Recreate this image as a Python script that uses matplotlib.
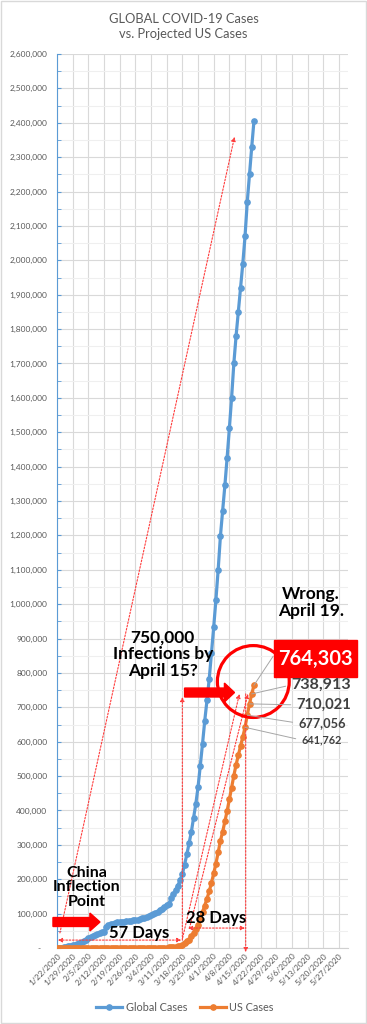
import matplotlib
matplotlib.use("Agg")
import matplotlib.pyplot as plt
import numpy as np
from matplotlib.ticker import FuncFormatter, MultipleLocator
from matplotlib.patches import FancyArrow, Ellipse, Rectangle

plt.rcParams['font.family'] = ['Lato', 'DejaVu Sans']

# daily cumulative cases, 1/22/2020 .. 4/19/2020
global_cases = [
    580, 845, 1317, 2015, 2800, 4581, 6058, 7813, 9823, 11950,
    14553, 17391, 20630, 24545, 28276, 31439, 34876, 37552, 40553, 43099,
    45170, 46839, 60328, 66887, 69032, 71226, 73260, 75138, 75641, 76199,
    76843, 78599, 78985, 79570, 80415, 81397, 82756, 84124, 86013,
    88371, 90309, 92844, 95124, 97886, 101800, 105836, 109835, 113582, 118582,
    125865, 128343, 145193, 156097, 167449, 181546, 197168, 214915, 242713, 272167,
    304528, 337020, 378287, 418045, 467653, 529591, 593291, 660706, 720117, 782365,
    857487,
    933000, 1013466, 1100000, 1197405, 1272115, 1345101, 1426096, 1511104, 1600000, 1700000,
    1780000, 1850000, 1920000, 1990000, 2070000, 2170000, 2250000, 2330000, 2406000,
]
us_cases = [
    1, 1, 2, 2, 5, 5, 5, 5, 5, 7,
    8, 11, 11, 11, 12, 12, 12, 12, 12, 13, 13, 14, 14, 14, 14, 14, 15, 15, 15,
    15, 35, 35, 35, 53, 53, 59, 60, 62, 70,
    76, 101, 122, 153, 221, 319, 435, 541, 704, 994,
    1301, 1630, 2183, 2770, 3613, 4596, 6344, 9197, 13779, 19367,
    24192, 33592, 43781, 54856, 68211, 85435, 104126, 123578, 143491, 164620,
    189618,
    216721, 245540, 277965, 312237, 337635, 368196, 398809, 432132, 466299, 501560,
    532879, 560433, 586941, 613886, 641762, 677056, 710021, 738913, 764303,
]
tick_labels = ['1/22/2020', '1/29/2020', '2/5/2020', '2/12/2020', '2/19/2020', '2/26/2020',
               '3/4/2020', '3/11/2020', '3/18/2020', '3/25/2020', '4/1/2020', '4/8/2020',
               '4/15/2020', '4/22/2020', '4/29/2020', '5/6/2020', '5/13/2020', '5/20/2020',
               '5/27/2020']
callout_days = [84, 85, 86, 87]   # 4/15 .. 4/18
callout_sizes = [7.8, 9.2, 10.6, 11.6]

days = np.arange(len(global_cases))
blue = '#5b9bd5'
orange = '#ed7d31'
grey = '#595959'

fig = plt.figure(figsize=(3.67, 10.24), dpi=100)
ax = fig.add_axes([57/367, 76/1024, 291/367, 894/1024])

ax.plot(days, global_cases, color=blue, lw=2.3, marker='o', ms=3.8, label='Global Cases', zorder=3)
ax.plot(days, us_cases, color=orange, lw=2.3, marker='o', ms=3.8, label='US Cases', zorder=3)

ax.set_xlim(0, 130)
ax.set_ylim(0, 2600000)
ax.set_xticks(np.arange(0, 127, 7))
ax.set_xticklabels(tick_labels, rotation=45, ha='right', rotation_mode='anchor',
                   fontsize=6, color=grey)
ax.set_yticks(np.arange(0, 2600001, 100000))
ax.yaxis.set_minor_locator(MultipleLocator(50000))
ax.yaxis.set_major_formatter(FuncFormatter(lambda v, p: '-   ' if v == 0 else f'{int(v):,}'))
ax.tick_params(axis='y', labelsize=6, labelcolor=grey, direction='in', length=3,
               color=blue, pad=7)
ax.tick_params(axis='y', which='minor', direction='in', length=3, color=blue)
ax.tick_params(axis='x', length=0, pad=3)
ax.grid(which='major', color='#d9d9d9', lw=0.8)
ax.grid(which='minor', axis='y', color='#efefef', lw=0.8)
ax.set_axisbelow(True)
for s in ['top', 'right']:
    ax.spines[s].set_visible(False)
ax.spines['left'].set_color(blue)
ax.spines['bottom'].set_color('#d0d0d0')

# dotted red guide arrows
red_dot = dict(color='#ff3b3b', lw=0.8, linestyle=(0, (1.5, 1.5)), shrinkA=0, shrinkB=0,
               mutation_scale=6)
def guide(head, tail, style='-|>'):
    ax.annotate('', xy=head, xytext=tail, annotation_clip=False,
                arrowprops=dict(arrowstyle=style, **red_dot), zorder=4)

guide((79.3, 2359000), (1.3, 44000))
guide((81.5, 739000), (56.1, 29000))
guide((85.3, 739000), (59.2, 58000))
guide((56, 730000), (56, 23000))
guide((84.3, -12000), (84.3, 739000))
guide((55.5, 23000), (0.4, 23000), '<|-|>')
guide((84.0, 58000), (58.5, 58000), '<|-|>')

# big block arrows
ax.add_patch(FancyArrow(-1.8, 75600, 21, 0, width=26000, head_width=52000, head_length=4.5,
                        length_includes_head=True, color='red', clip_on=False, zorder=6))
ax.add_patch(FancyArrow(57.0, 743000, 22.3, 0, width=26000, head_width=55000, head_length=4.5,
                        length_includes_head=True, color='red', clip_on=False, zorder=6))

# circle and highlighted value
ax.add_patch(Ellipse((87.7, 775000), 32.1, 209000, fill=False, edgecolor='red', lw=2.3,
                     zorder=6, clip_on=False))
ax.annotate('', xy=(days[-1], us_cases[-1]), xytext=(96.5, 848000), annotation_clip=False,
            arrowprops=dict(arrowstyle='-', color='#a6a6a6', lw=0.7, shrinkA=0, shrinkB=0),
            zorder=5)
ax.add_patch(Rectangle((97.1, 788000), 37, 108000, color='red', clip_on=False, zorder=7))
ax.text(115.6, 842000, f'{us_cases[-1]:,}', color='white', fontsize=14.5, fontweight='bold',
        ha='center', va='center', zorder=8)

label_pos = [(109.1, 605000), (107.7, 654000), (106.9, 707000), (104.6, 765000)]
for d, fs, (lx, ly) in zip(callout_days, callout_sizes, label_pos):
    ax.annotate(f'{us_cases[d]:,}', xy=(d, us_cases[d]), xytext=(lx, ly),
                ha='left', va='center', fontsize=fs, fontweight='bold', color='#404040',
                annotation_clip=False, zorder=7,
                arrowprops=dict(arrowstyle='-', color='#a6a6a6', lw=0.7, shrinkA=2, shrinkB=0,
                                relpos=(0, 0.5)))

bold = dict(fontweight='bold', color='black', ha='center', va='center', zorder=8)
ax.text(113.5, 1005000, 'Wrong.\nApril 19.', fontsize=12.5, linespacing=1.1, **bold)
ax.text(47.2, 855000, '750,000\nInfections by\nApril 15?', fontsize=12.5, linespacing=1.05, **bold)
ax.text(13.2, 177000, 'China\nInflection\nPoint', fontsize=11.5, linespacing=1.05, **bold)
ax.text(36.5, 43600, '57 Days', fontsize=12, **bold)
ax.text(71.2, 87000, '28 Days', fontsize=12, **bold)

fig.text(0.5, 0.974, 'GLOBAL COVID-19 Cases\nvs. Projected US Cases', ha='center', va='center',
         fontsize=9.3, color=grey, linespacing=1.35)
fig.legend(loc='center', bbox_to_anchor=(0.504, 0.0166), ncol=2, frameon=False, fontsize=7.8,
           handlelength=2.4, columnspacing=1.2, handletextpad=0.3, labelcolor=grey)
fig.patches.append(Rectangle((0.002, 0.001), 0.996, 0.998, transform=fig.transFigure,
                             fill=False, edgecolor='#d9d9d9', lw=1))

fig.savefig('out.png', dpi=100)
